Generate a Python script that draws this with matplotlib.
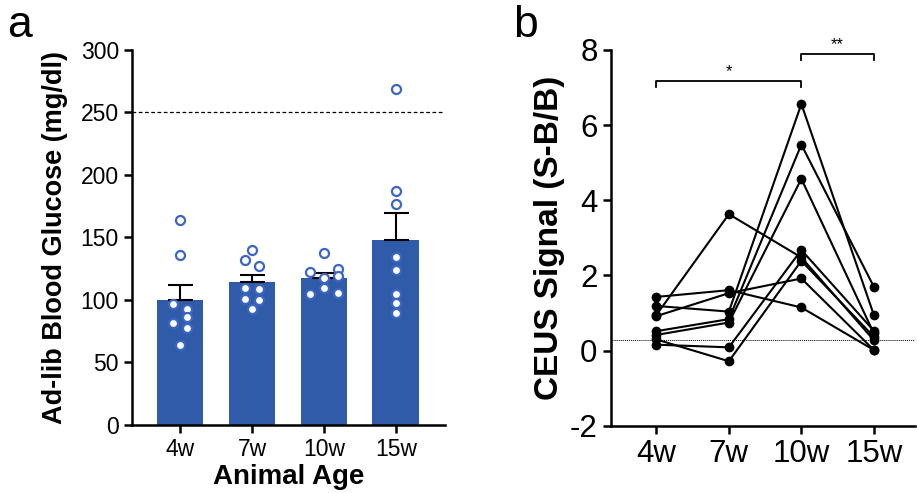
import numpy as np
from matplotlib import pyplot as plt

plt.rcParams['font.family'] = ['Liberation Sans', 'DejaVu Sans']
plt.rcParams['axes.unicode_minus'] = False

# panel a: ad-lib blood glucose per age group
ages = ['4w', '7w', '10w', '15w']
glucose_4w = [163.7, 135.7, 97.1, 93.1, 86.1, 81.9, 77.9, 64.0]
glucose_7w = [140.0, 132.0, 126.9, 109.9, 109.1, 101.1, 100.0, 92.8]
glucose_10w = [137.9, 125.1, 122.1, 118.9, 117.3, 109.9, 105.9, 104.8]
glucose_15w = [268.5, 186.7, 176.8, 134.7, 124.0, 104.8, 97.9, 89.9]
glucose_threshold = 250

# horizontal scatter offsets of the dots within each bar
offsets_4w = [0, 0, -0.1, 0.1, 0.1, -0.1, 0.1, 0]
offsets_7w = [0, -0.1, 0.1, -0.1, 0.1, -0.1, 0.1, 0]
offsets_10w = [0, 0.2, -0.2, 0.2, 0, 0, 0.2, -0.2]
offsets_15w = [0, 0, 0, 0, 0, 0, 0, 0]

# panel b: CEUS signal per animal (4w, 7w, 10w, 15w)
ceus_animals = [
    [1.43, 1.61, 1.15, 0.02],
    [0.92, 1.53, 1.92, 0.02],
    [0.95, 3.63, 2.48, 0.28],
    [1.19, 1.04, 6.56, 0.95],
    [0.52, 0.84, 5.48, 1.70],
    [0.42, 0.75, 4.57, 0.46],
    [0.16, 0.09, 2.68, 0.53],
    [0.30, -0.28, 2.39, 0.37],
]
ceus_baseline = 0.29

bar_color = '#2f5ba8'
dot_color = '#3c66c4'

fig = plt.figure(figsize=(9.17, 4.93), dpi=100)
axA = fig.add_axes([0.144, 0.138, 0.341, 0.761])
axB = fig.add_axes([0.666, 0.136, 0.332, 0.763])

groups = [glucose_4w, glucose_7w, glucose_10w, glucose_15w]
offsets = [offsets_4w, offsets_7w, offsets_10w, offsets_15w]
x = np.arange(len(ages))
means = [np.mean(g) for g in groups]
sems = [np.std(g, ddof=1) / np.sqrt(len(g)) for g in groups]

axA.bar(x, means, width=0.65, color=bar_color, zorder=2)
axA.errorbar(x, means, yerr=[np.zeros(len(x)), sems], fmt='none', ecolor='black',
             elinewidth=1.5, capsize=9, capthick=1.5, zorder=3)
for i, (g, off) in enumerate(zip(groups, offsets)):
    axA.plot(i + np.array(off), g, 'o', mfc='white', mec=dot_color, mew=1.6,
             ms=6.5, zorder=4, clip_on=False)
axA.axhline(glucose_threshold, color='black', ls=(0, (3, 2)), lw=0.9, zorder=1)

axA.set_xlim(-0.667, 3.68)
axA.set_ylim(0, 300)
axA.set_xticks(x)
axA.set_xticklabels(ages)
axA.set_yticks(range(0, 301, 50))
axA.set_ylabel('Ad-lib Blood Glucose (mg/dl)', fontsize=19.5, fontweight='bold', labelpad=9)
axA.set_xlabel('Animal Age', fontsize=20, fontweight='bold', labelpad=2)
axA.tick_params(labelsize=16.5, width=1.8, length=6)

for ax in (axA, axB):
    for s in ['top', 'right']:
        ax.spines[s].set_visible(False)
    for s in ['left', 'bottom']:
        ax.spines[s].set_linewidth(1.8)

for animal in ceus_animals:
    axB.plot(x, animal, '-o', color='black', lw=1.5, ms=6, zorder=3, clip_on=False)
axB.axhline(ceus_baseline, color='black', ls=(0, (1, 1)), lw=0.7, zorder=1)

# significance brackets
def bracket(ax, x0, x1, y, h, label):
    ax.plot([x0, x0, x1, x1], [y - h, y, y, y - h], color='black', lw=1.3, clip_on=False)
    ax.text((x0 + x1) / 2, y + 0.05, label, ha='center', va='bottom', fontsize=12)

bracket(axB, 0, 2, 7.18, 0.17, '*')
bracket(axB, 2, 3, 7.9, 0.17, '**')

axB.set_xlim(-0.63, 3.57)
axB.set_ylim(-2, 8)
axB.set_xticks(x)
axB.set_xticklabels(ages)
axB.set_yticks(range(-2, 9, 2))
axB.set_ylabel('CEUS Signal (S-B/B)', fontsize=24, fontweight='bold', labelpad=3)
axB.tick_params(labelsize=22.5, width=1.8, length=6)

fig.text(0.008, 0.925, 'a', fontsize=32)
fig.text(0.560, 0.925, 'b', fontsize=32)

fig.savefig('out.png', dpi=100)
